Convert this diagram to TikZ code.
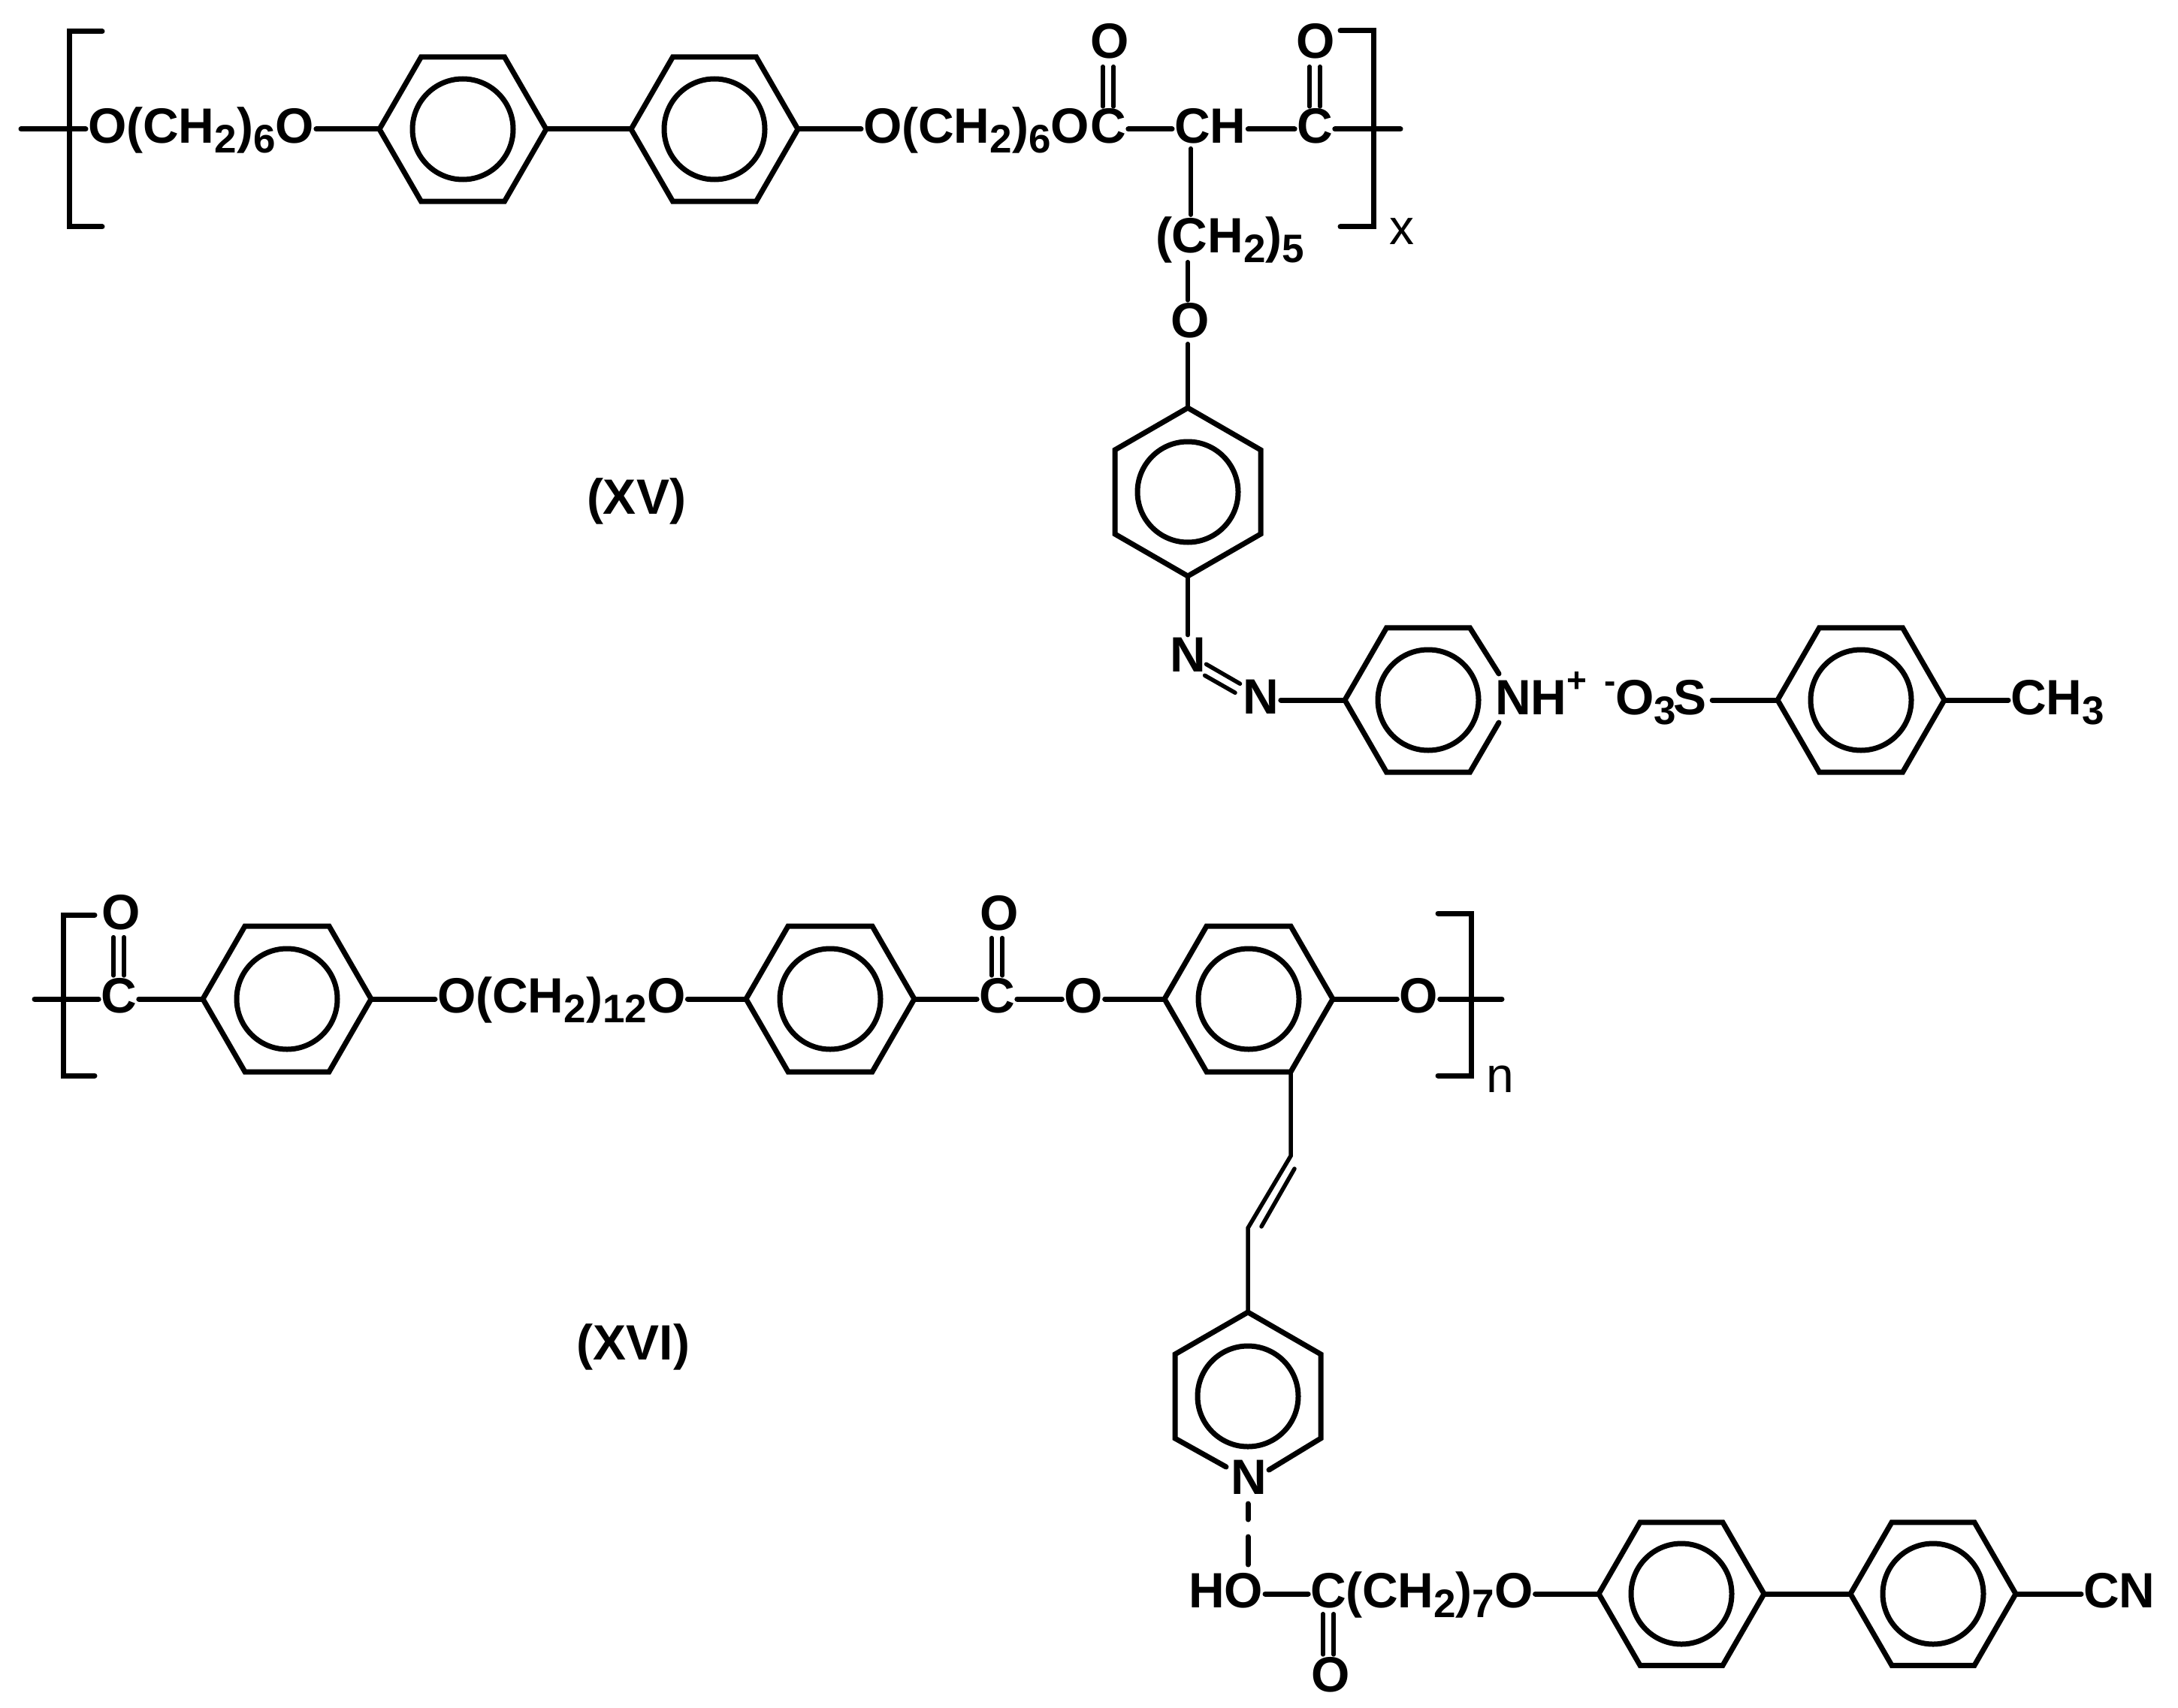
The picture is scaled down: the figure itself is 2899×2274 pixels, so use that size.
\documentclass[tikz,border=0pt]{standalone}
\usepackage{fontspec}
\setmainfont{Liberation Sans}
\newcommand\sbs[1]{\raisebox{-13pt}{\fontsize{53}{53}\selectfont #1}}
\newcommand\sps[2]{\raisebox{#1}{\fontsize{46}{46}\selectfont #2}}
% flat-top ring: name, x, y, R
\newcommand\ringdefF[4]{%
  \coordinate (#1) at (#2,#3);
  \coordinate (#1-E) at ([shift={(0:#4pt)}]#1);
  \coordinate (#1-NE) at ([shift={(60:#4pt)}]#1);
  \coordinate (#1-NW) at ([shift={(120:#4pt)}]#1);
  \coordinate (#1-W) at ([shift={(180:#4pt)}]#1);
  \coordinate (#1-SW) at ([shift={(240:#4pt)}]#1);
  \coordinate (#1-SE) at ([shift={(300:#4pt)}]#1);
  \draw[bond,line join=miter] (#1) circle[radius=67pt];
}
\newcommand\ringF[4]{%
  \ringdefF{#1}{#2}{#3}{#4}
  \draw[bond,line join=miter] (#1-E) -- (#1-NE) -- (#1-NW) -- (#1-W) -- (#1-SW) -- (#1-SE) -- cycle;
}
\newcommand\ringdefP[4]{%
  \coordinate (#1) at (#2,#3);
  \coordinate (#1-N) at ([shift={(90:#4pt)}]#1);
  \coordinate (#1-NE) at ([shift={(30:#4pt)}]#1);
  \coordinate (#1-SE) at ([shift={(-30:#4pt)}]#1);
  \coordinate (#1-S) at ([shift={(-90:#4pt)}]#1);
  \coordinate (#1-SW) at ([shift={(-150:#4pt)}]#1);
  \coordinate (#1-NW) at ([shift={(150:#4pt)}]#1);
  \draw[bond,line join=miter] (#1) circle[radius=67pt];
}
\tikzset{
  bond/.style={line width=7pt,line cap=round},
  dbl/.style={line width=5.5pt,line cap=round},
  lab/.style={inner sep=0pt,outer sep=3pt,font=\bfseries\fontsize{66}{70}\selectfont},
  thinlab/.style={inner sep=0pt,outer sep=3pt,font=\mdseries\fontsize{66}{70}\selectfont},
}
\begin{document}
\begin{tikzpicture}[x=1pt,y=-1pt]
\useasboundingbox (0,0) rectangle (2899,2274);
% ---------- XV ----------
\ringF{r1}{616}{172}{111}
\ringF{r2}{951}{172}{111}
\ringdefP{r3}{1581}{655}{112}
\draw[bond,line join=miter] (r3-N) -- (r3-NE) -- (r3-SE) -- (r3-S) -- (r3-SW) -- (r3-NW) -- cycle;
\ringdefF{r4}{1901}{932}{111}
\coordinate (r4a) at (1995,897);
\coordinate (r4b) at (1995,962);
\draw[bond,line join=miter] (r4a) -- (r4-NE) -- (r4-NW) -- (r4-W) -- (r4-SW) -- (r4-SE) -- (r4b);
\ringF{r5}{2477}{932}{111}

\node[lab,anchor=base west] (oa) at (114,191) {O(CH\sbs{2})\sbs{6}O};
\node[lab,anchor=base west] (ob) at (1146,191) {O(CH\sbs{2})\sbs{6}O};
\node[lab,anchor=base] (c1) at (1475,191) {C};
\node[lab,anchor=base] (o1) at (1477,78) {O};
\node[lab,anchor=base west] (ch) at (1560,191) {CH};
\node[lab,anchor=base] (c2) at (1750,191) {C};
\node[lab,anchor=base] (o2) at (1751,78) {O};
\node[lab,anchor=base west] (ch5) at (1535,337) {(CH\sbs{2})\sbs{5}};
\node[lab,anchor=base] (o3) at (1584,449) {O};
\node[lab,anchor=base] (n1) at (1581,894) {N};
\node[lab,anchor=base] (n2) at (1678,950) {N};
\node[lab,anchor=base west] (nh) at (1987,951) {NH\sps{30pt}{+}};
\node[lab,anchor=base west] (os) at (2132,951) {\sps{29pt}{-}O\sbs{3}\kern-4pt S};
\node[lab,anchor=base west] (ch3) at (2673,951) {CH\sbs{3}};
\node[thinlab,anchor=base] (xa) at (1866,325) {x};
\node[lab,anchor=base] (t15) at (847,684) {(XV)};

\coordinate (s1) at (28,172);
\coordinate (e1) at (1864,172);
\coordinate (side) at (1585,250);
\draw[bond] (s1) -- (oa.west |- r1);
\draw[bond] (oa.east |- r1) -- (r1-W);
\draw[bond] (r1-E) -- (r2-W);
\draw[bond] (r2-E) -- (ob.west |- r2);
\draw[bond] (c1.east |- r2) -- (ch.west |- r2);
\draw[bond] (ch.east |- r2) -- (c2.west |- r2);
\draw[bond] (c2.east |- r2) -- (e1);
\draw[dbl] ([xshift=-7pt]c1.north) -- ([xshift=-7pt,yshift=-7pt]c1.north |- o1.south);
\draw[dbl] ([xshift=7pt]c1.north) -- ([xshift=7pt,yshift=-7pt]c1.north |- o1.south);
\draw[dbl] ([xshift=-7pt]c2.north) -- ([xshift=-7pt,yshift=-7pt]c2.north |- o2.south);
\draw[dbl] ([xshift=7pt]c2.north) -- ([xshift=7pt,yshift=-7pt]c2.north |- o2.south);
\draw[dbl,shorten <=3pt] (ch.south -| side) -- (ch5.north -| side);
\draw[dbl,shorten <=-5pt] (ch5.south -| r3) -- (o3.north -| r3);
\draw[dbl,shorten <=5pt] (o3.south -| r3) -- (r3-N);
\draw[dbl] (r3-S) -- (n1.north -| r3);
\draw[dbl] ([shift={(24.5pt,-13pt)}]n1.center) -- ([shift={(-27.5pt,17pt)}]n2.center);
\draw[dbl] ([shift={(22.6pt,-28pt)}]n1.center) -- ([shift={(-34pt,5pt)}]n2.center);
\draw[bond] (n2.east |- r4) -- (r4-W);
\draw[bond,shorten <=5pt] (os.east |- r5) -- (r5-W);
\draw[bond] (r5-E) -- (ch3.west |- r5);
% brackets XV
\coordinate (b1a) at (136,42); \coordinate (b1b) at (92,42); \coordinate (b1c) at (92,302); \coordinate (b1d) at (136,302);
\draw[bond,line join=miter] (b1a) -- (b1b) -- (b1c) -- (b1d);
\coordinate (b2a) at (1784,41); \coordinate (b2b) at (1828,41); \coordinate (b2c) at (1828,302); \coordinate (b2d) at (1784,302);
\draw[bond,line join=miter] (b2a) -- (b2b) -- (b2c) -- (b2d);

% ---------- XVI ----------
\ringF{r6}{382}{1330}{112}
\ringF{r7}{1105}{1330}{112}
\ringF{r8}{1662}{1330}{112}
\ringdefP{r9}{1661}{1859}{112}
\coordinate (r9a) at (1632,1953);
\coordinate (r9b) at (1689,1957);
\draw[bond,line join=miter] (r9a) -- (r9-SW) -- (r9-NW) -- (r9-N) -- (r9-NE) -- (r9-SE) -- (r9b);
\ringF{r10}{2238}{2122}{110}
\ringF{r11}{2573}{2122}{110}

\node[lab,anchor=base] (c3) at (158,1348) {C};
\node[lab,anchor=base] (o4) at (161,1237) {O};
\node[lab,anchor=base west] (oc) at (579,1348) {O(CH\sbs{2})\sbs{12}O};
\node[lab,anchor=base] (c4) at (1327,1348) {C};
\node[lab,anchor=base] (o5) at (1330,1238) {O};
\node[lab,anchor=base] (o6) at (1442,1348) {O};
\node[lab,anchor=base] (o7) at (1888,1348) {O};
\node[thinlab,anchor=base] (nn) at (1997,1454) {n};
\node[lab,anchor=base] (t16) at (843,1810) {(XVI)};
\node[lab,anchor=base] (n3) at (1662,1989) {N};
\node[lab,anchor=base west] (ho) at (1579,2140) {HO};
\node[lab,anchor=base] (c5) at (1768,2140) {C};
\node[lab,anchor=base west] (c7) at (1788,2140) {(CH\sbs{2})\sbs{7}O};
\node[lab,anchor=base] (o8) at (1771,2252) {O};
\node[lab,anchor=base west] (cn) at (2770,2140) {CN};

\coordinate (s2) at (46,1330);
\coordinate (e2) at (1999,1330);
\coordinate (v1) at (r8-SE |- 0,1539);
\coordinate (v2) at (r9 |- 0,1635);
\coordinate (v3) at (1723,1556);
\coordinate (v4) at (1679,1633);
\draw[bond] (s2) -- (c3.west |- r6);
\draw[bond] (c3.east |- r6) -- (r6-W);
\draw[bond] (r6-E) -- (oc.west |- r6);
\draw[bond] (oc.east |- r6) -- (r7-W);
\draw[bond] (r7-E) -- (c4.west |- r7);
\draw[bond] (c4.east |- r7) -- (o6.west |- r7);
\draw[bond] (o6.east |- r7) -- (r8-W);
\draw[bond] (r8-E) -- (o7.west |- r8);
\draw[bond] (o7.east |- r8) -- (e2);
\draw[dbl] ([xshift=-7pt]c3.north) -- ([xshift=-7pt,yshift=-7pt]c3.north |- o4.south);
\draw[dbl] ([xshift=7pt]c3.north) -- ([xshift=7pt,yshift=-7pt]c3.north |- o4.south);
\draw[dbl] ([xshift=-7pt]c4.north) -- ([xshift=-7pt,yshift=-7pt]c4.north |- o5.south);
\draw[dbl] ([xshift=7pt]c4.north) -- ([xshift=7pt,yshift=-7pt]c4.north |- o5.south);
\draw[dbl,line join=miter] (r8-SE) -- (v1) -- (v2) -- (r9-N);
\draw[dbl] (v3) -- (v4);
\draw[bond,line cap=round,dash pattern=on 21pt off 23pt on 37pt off 200pt] ([yshift=-10pt]n3.south -| r9) -- ([yshift=2pt]ho.north -| r9);
\draw[bond] (ho.east |- r10) -- (c5.west |- r10);
\draw[bond] (c7.east |- r10) -- (r10-W);
\draw[bond] (r10-E) -- (r11-W);
\draw[bond] (r11-E) -- (cn.west |- r11);
\draw[dbl,shorten <=5pt] ([xshift=-7pt]c5.south) -- ([xshift=-7pt]c5.south |- o8.north);
\draw[dbl,shorten <=5pt] ([xshift=7pt]c5.south) -- ([xshift=7pt]c5.south |- o8.north);
% brackets XVI
\coordinate (b3a) at (126,1218); \coordinate (b3b) at (84,1218); \coordinate (b3c) at (84,1432); \coordinate (b3d) at (126,1432);
\draw[bond,line join=miter] (b3a) -- (b3b) -- (b3c) -- (b3d);
\coordinate (b4a) at (1914,1216); \coordinate (b4b) at (1958,1216); \coordinate (b4c) at (1958,1432); \coordinate (b4d) at (1914,1432);
\draw[bond,line join=miter] (b4a) -- (b4b) -- (b4c) -- (b4d);
\end{tikzpicture}
\end{document}
